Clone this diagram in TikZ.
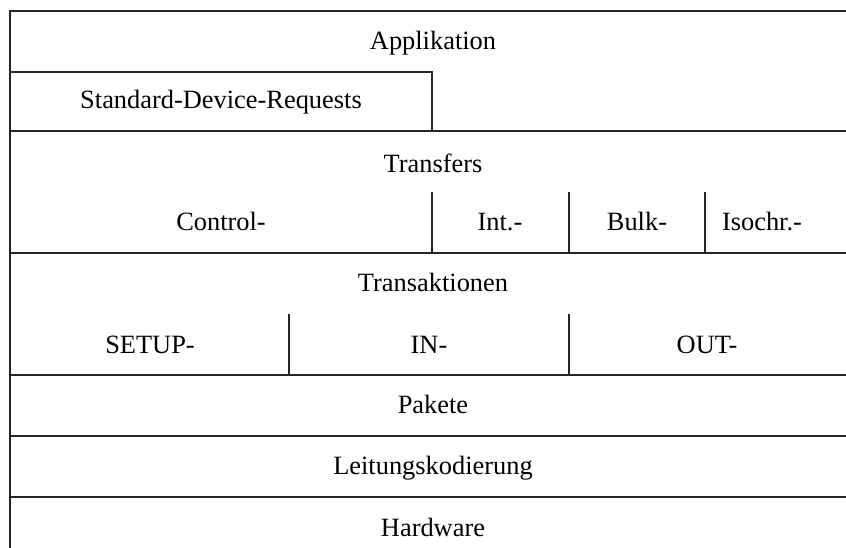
\documentclass[tikz,border=0pt]{standalone}
\usepackage{fontspec}
\setmainfont{Liberation Serif}
\begin{document}
\begin{tikzpicture}[x=1pt,y=-1pt,
  ln/.style={line width=1.3pt, draw=black!85},
  lbl/.style={font=\fontsize{26.4}{30}\selectfont, inner sep=0pt, anchor=base}]
\useasboundingbox (0,0) rectangle (846,548);
% horizontal and outer lines
\draw[ln] (860,11) -- (10,11) -- (10,560);
\draw[ln] (10,72) -- (432,72) -- (432,131);
\draw[ln] (10,131) -- (860,131);
\draw[ln] (432,192) -- (432,253);
\draw[ln] (569,192) -- (569,253);
\draw[ln] (705,192) -- (705,253);
\draw[ln] (10,253) -- (860,253);
\draw[ln] (289,314) -- (289,375);
\draw[ln] (569,314) -- (569,375);
\draw[ln] (10,375) -- (860,375);
\draw[ln] (10,436) -- (860,436);
\draw[ln] (10,497) -- (860,497);
% labels
\node[lbl] (app) at (433,50) {Applikation};
\node[lbl] (sdr) at (221,109) {Standard-Device-Requests};
\node[lbl] (tr) at (433,173) {Transfers};
\node[lbl] (ctl) at (221,231) {Control-};
\node[lbl] (int) at (500,231) {Int.-};
\node[lbl] (blk) at (637,231) {Bulk-};
\node[lbl] (iso) at (762,231) {Isochr.-};
\node[lbl] (ta) at (433,291) {Transaktionen};
\node[lbl] (setup) at (150,353) {SETUP-};
\node[lbl] (in) at (429,353) {IN-};
\node[lbl] (out) at (707,353) {OUT-};
\node[lbl] (pk) at (433,413) {Pakete};
\node[lbl] (lk) at (433,474) {Leitungskodierung};
\node[lbl] (hw) at (433,536) {Hardware};
\end{tikzpicture}
\end{document}
